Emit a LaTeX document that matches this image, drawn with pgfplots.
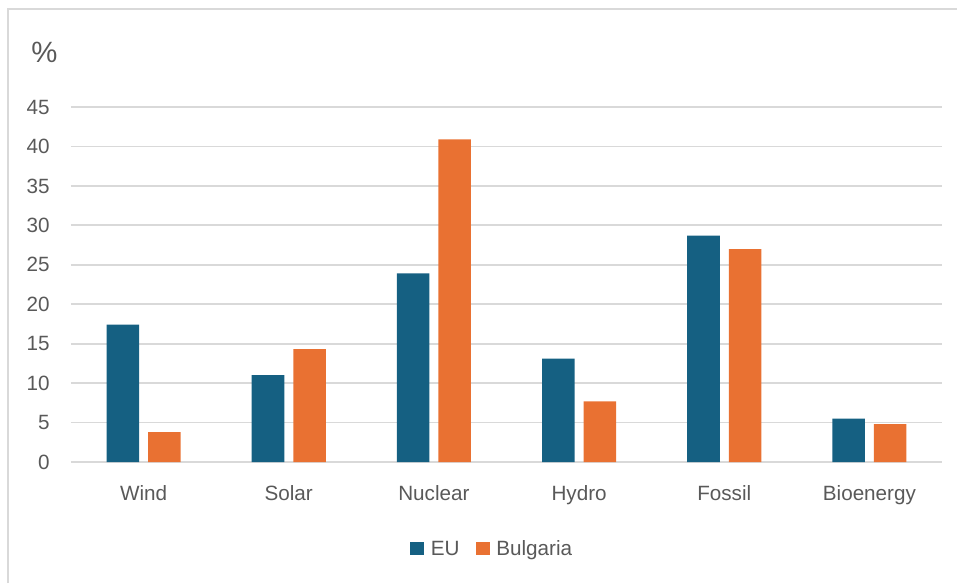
\documentclass[border=0pt]{standalone}
\usepackage{pgfplots}
\pgfplotsset{compat=1.18}
\usepackage{fontspec}
\setmainfont{Liberation Sans}
\definecolor{eu}{HTML}{156082}
\definecolor{bg}{HTML}{E97132}
\definecolor{txt}{HTML}{595959}
\definecolor{grd}{HTML}{D9D9D9}
\begin{document}
\begin{tikzpicture}[x=0.75pt,y=0.75pt]
\useasboundingbox (0,0) rectangle (957,583);
\draw[grd, line width=1.5pt] (8,0) -- (8,574) -- (957,574);
\node[anchor=base west, text=txt, font=\fontsize{22}{26}\selectfont, inner sep=0] at (31,520) {\%};
\begin{axis}[
  at={(53.25pt,90.75pt)}, anchor=south west,
  scale only axis, width=653.25pt, height=266.25pt,
  ybar=6.75pt, bar width=24.4pt,
  xmin=-0.5, xmax=5.5, ymin=0, ymax=45,
  xtick=data,
  xticklabels={Wind,Solar,Nuclear,Hydro,Fossil,Bioenergy},
  ytick={0,5,...,45},
  axis line style={draw=none},
  major tick length=0pt,
  ymajorgrids, grid style={grd, line width=1.3pt},
  tick label style={text=txt, font=\fontsize{15.5}{18}\selectfont},
  /pgf/number format/assume math mode=true,
  yticklabel style={xshift=-12.5pt},
  xticklabel style={yshift=-14pt},
  legend columns=2,
  legend style={draw=none, at={(0.484,-0.245)}, anchor=center, text=txt,
    font=\fontsize{15.5}{18}\selectfont,
    /tikz/every odd column/.append style={column sep=3pt},
    /tikz/every even column/.append style={column sep=10pt}},
  legend image code/.code={\fill[#1] (0pt,-4.5pt) rectangle (10.5pt,5.5pt);},
]
\addplot[fill=eu, draw=none] coordinates {(0,17.4) (1,11.0) (2,23.9) (3,13.1) (4,28.7) (5,5.5)};
\addplot[fill=bg, draw=none] coordinates {(0,3.8) (1,14.3) (2,40.9) (3,7.7) (4,27.0) (5,4.8)};
\legend{EU,Bulgaria}
\end{axis}
\end{tikzpicture}
\end{document}
